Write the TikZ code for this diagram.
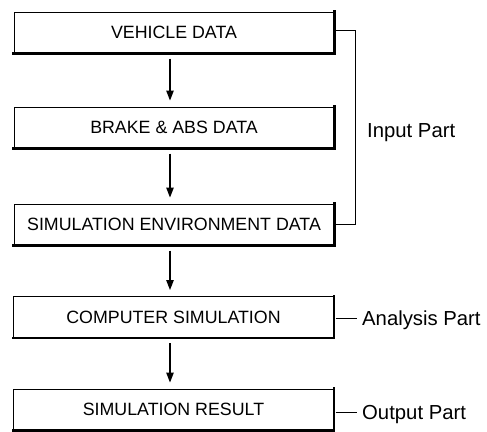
\documentclass[tikz,border=0pt]{standalone}
\usepackage{fontspec}
\setmainfont{Liberation Sans}
\usetikzlibrary{arrows.meta}
\tikzset{
  blockbox/.style={draw, line width=1pt, minimum width=320pt, minimum height=41pt,
    inner sep=0pt, text height=12.6pt, text depth=0pt, font=\fontsize{17.8}{20}\selectfont},
  shade edge/.style={line width=2.4pt, line cap=rect},
  flow/.style={line width=1.3pt, -{Triangle[width=7.5pt,length=10pt]}},
  partlabel/.style={anchor=west, inner sep=0pt, text height=14pt, text depth=0pt,
    font=\fontsize{20.3}{23}\selectfont},
  thin link/.style={line width=1pt}
}
\begin{document}
\begin{tikzpicture}[x=1pt,y=-1pt]
\useasboundingbox (0,0) rectangle (487,431);

\node[blockbox] (b1) at (174,32.5) {VEHICLE DATA};
\node[blockbox] (b2) at (174,127.5) {BRAKE \& ABS DATA};
\node[blockbox] (b3) at (174,224.5) {SIMULATION ENVIRONMENT DATA};
\node[blockbox] (b4) at (173.5,317) {COMPUTER SIMULATION};
\node[blockbox] (b5) at (173.5,409.5) {SIMULATION RESULT};

\foreach \b in {b1,b2,b3,b4,b5}{
  \draw[shade edge] (\b.north east) -- (\b.south east) -- (\b.south west);
}

\draw[flow] ([yshift=-5pt]b1.south -| 170,0) -- ([yshift=6pt]b2.north -| 170,0);
\draw[flow] ([yshift=-5pt]b2.south -| 170,0) -- ([yshift=6pt]b3.north -| 170,0);
\draw[flow] ([yshift=-5pt]b3.south -| 170,0) -- ([yshift=6pt]b4.north -| 170,0);
\draw[flow] ([yshift=-5pt]b4.south -| 170,0) -- ([yshift=6pt]b5.north -| 170,0);

\coordinate (brk) at (355,30);
\draw[thin link] ([xshift=1.5pt]b1.east |- brk) -- (brk) |- ([xshift=1.5pt]b3.east);
\node[partlabel] (inp) at (367,130) {Input Part};

\coordinate (an) at (357,318);
\draw[thin link] ([xshift=1.5pt]b4.east |- an) -- (an);
\node[partlabel] (anl) at (362,318) {Analysis Part};

\coordinate (op) at (357,412);
\draw[thin link] ([xshift=1.5pt]b5.east |- op) -- (op);
\node[partlabel] (opl) at (362,412) {Output Part};
\end{tikzpicture}
\end{document}
